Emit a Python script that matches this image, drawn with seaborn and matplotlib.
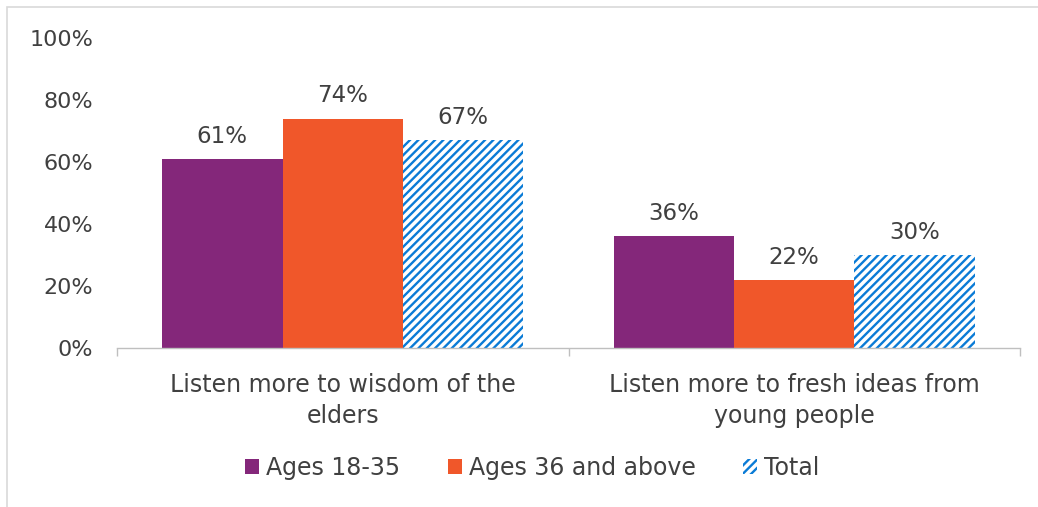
import matplotlib
matplotlib.use("Agg")
import matplotlib.pyplot as plt
import seaborn as sns
import pandas as pd
from matplotlib.patches import Rectangle, Patch

categories = ["Listen more to wisdom of the\nelders", "Listen more to fresh ideas from\nyoung people"]
series_names = ["Ages 18-35", "Ages 36 and above", "Total"]
ages_18_35 = [61, 36]
ages_36_up = [74, 22]
total = [67, 30]
yticks = [0, 20, 40, 60, 80, 100]

sns.set_theme(style="white")
plt.rcParams['font.family'] = ['DejaVu Sans']
plt.rcParams['hatch.linewidth'] = 1.7
plt.rcParams['hatch.color'] = '#0A7BD6'

text_color = '#404040'
colors = ['#84277A', '#F0572A', '#FFFFFF']

df = pd.DataFrame({
    'category': categories * 3,
    'series': [s for s in series_names for _ in categories],
    'value': ages_18_35 + ages_36_up + total,
})

fig = plt.figure(figsize=(10.38, 5.07), dpi=100)
ax = fig.add_axes([117/1038, 1 - 348/507, (1020-117)/1038, (348-38)/507])

sns.barplot(data=df, x='category', y='value', hue='series', hue_order=series_names,
            palette=colors, width=0.8, saturation=1, ax=ax, legend=False, errorbar=None)

for i, cont in enumerate(ax.containers):
    for bar in cont:
        bar.set_linewidth(0)
        if i == 2:
            bar.set_hatch('////')
            bar.set_edgecolor('#0A7BD6')
            bar.set_facecolor('white')
    ax.bar_label(cont, labels=[f"{v:.0f}%" for v in cont.datavalues], padding=8,
                 fontsize=16.5, color=text_color)

ax.set_ylim(0, 100)
ax.set_xlim(-0.5, 1.5)
ax.set_yticks(yticks)
ax.set_yticklabels([f"{v}%" for v in yticks], fontsize=16, color=text_color)
ax.tick_params(axis='y', length=0, pad=17)
ax.tick_params(axis='x', which='major', length=0, pad=18, labelsize=17, labelcolor=text_color)
for lbl in ax.get_xticklabels():
    lbl.set_linespacing(1.38)
ax.set_xticks([-0.5, 0.5, 1.5], minor=True)
ax.tick_params(axis='x', which='minor', length=6, width=1, color='#BFBFBF', direction='out', bottom=True)
ax.set_xlabel('')
ax.set_ylabel('')
for side in ['top', 'right', 'left']:
    ax.spines[side].set_visible(False)
ax.spines['bottom'].set_color('#BFBFBF')
ax.spines['bottom'].set_linewidth(1)
ax.grid(False)

handles = [Patch(facecolor=colors[0], edgecolor='none'),
           Patch(facecolor=colors[1], edgecolor='none'),
           Patch(facecolor='white', edgecolor='#0A7BD6', hatch='////', linewidth=0)]
leg = fig.legend(handles, series_names, loc='center', bbox_to_anchor=(0.513, 1 - 468/507),
                 ncol=3, frameon=False, fontsize=17, handlelength=0.6, handleheight=0.6,
                 handletextpad=0.3, columnspacing=2.0)
for t in leg.get_texts():
    t.set_color(text_color)

fig.patches.append(Rectangle((7/1038, -0.05), 1.1, 1 - 7/507 + 0.05, transform=fig.transFigure,
                             fill=False, edgecolor='#D9D9D9', linewidth=1.2, zorder=0))

fig.savefig('out.png', dpi=100)
